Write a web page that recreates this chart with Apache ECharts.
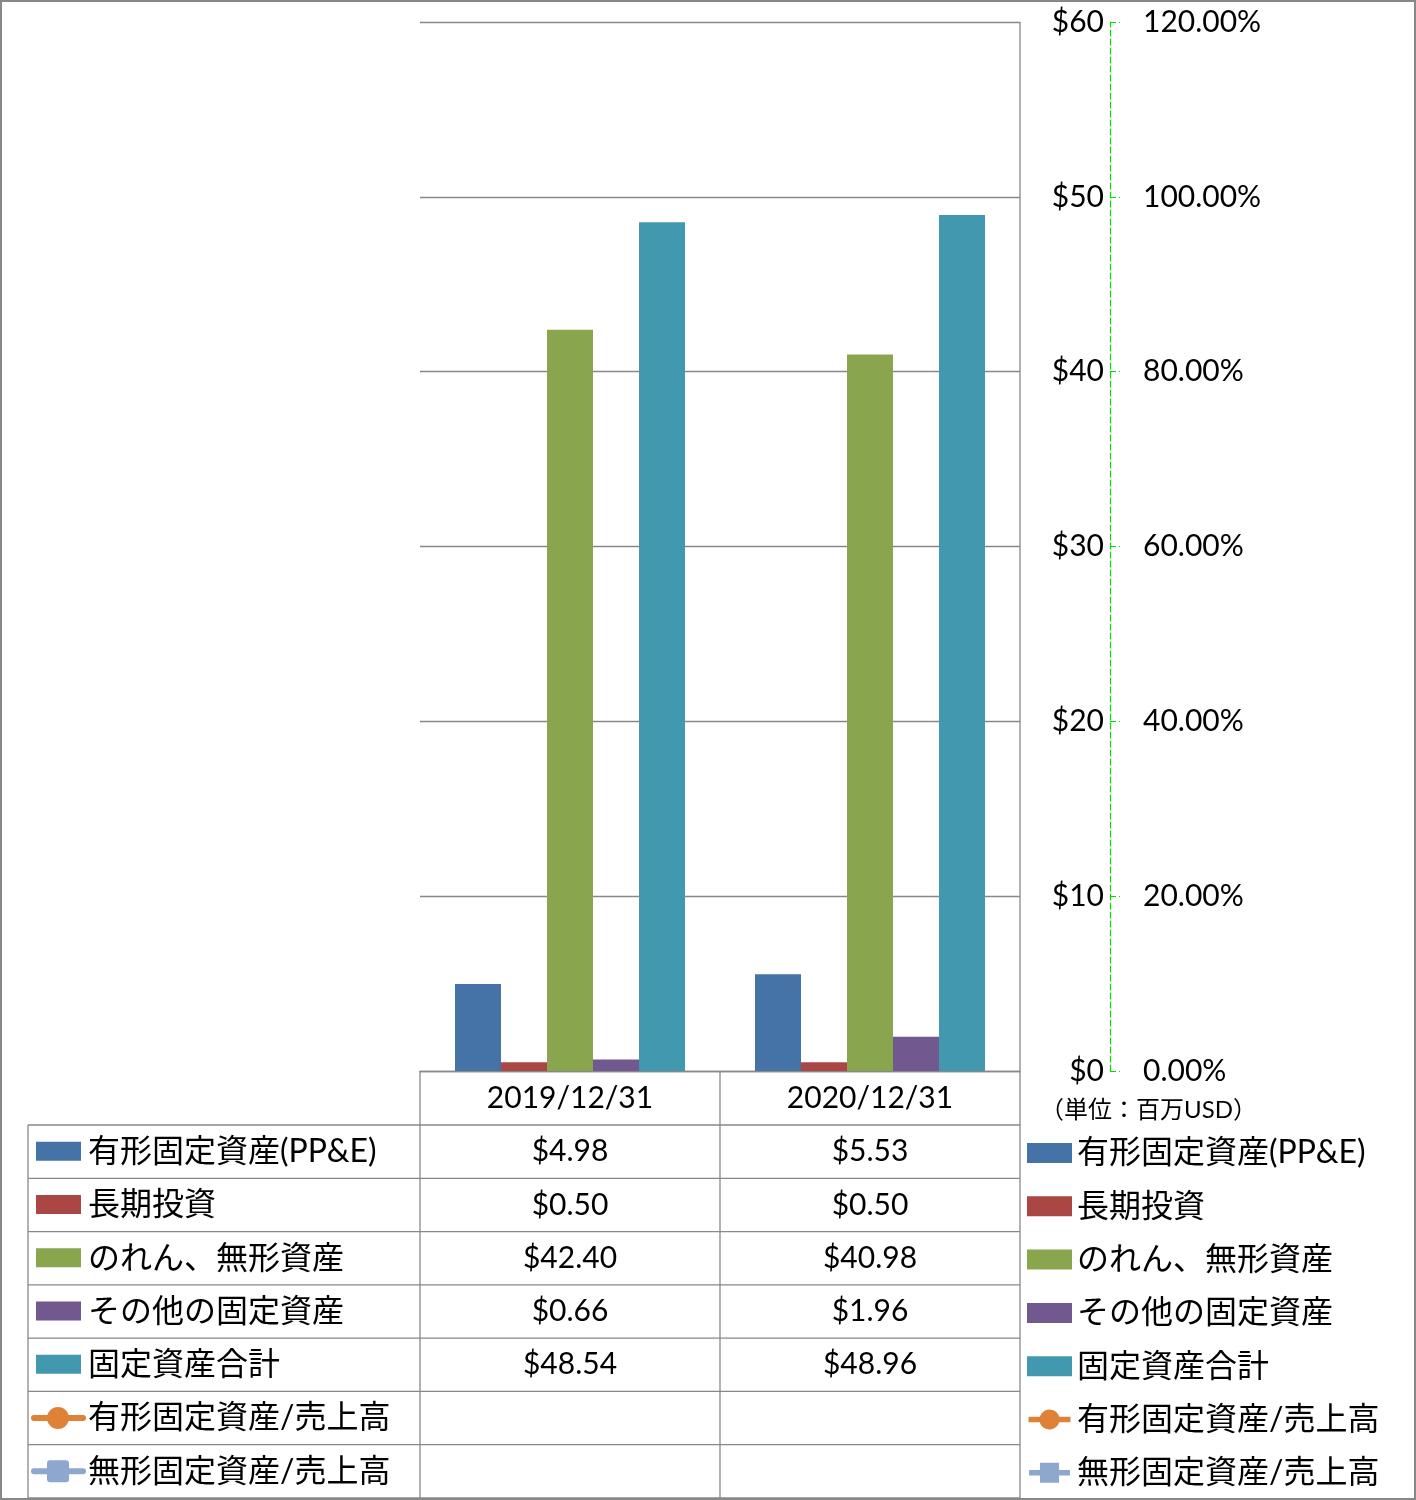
<!DOCTYPE html>
<html><head><meta charset="utf-8">
<script src="https://cdn.jsdelivr.net/npm/echarts@6/dist/echarts.min.js"></script>
<style>html,body{margin:0;padding:0;background:#fff}#c{width:1416px;height:1500px}</style>
</head><body><div id="c"></div>
<script>
// ---- data ----
const categories = ['2019/12/31', '2020/12/31'];
const seriesNames = ['有形固定資産(PP&E)', '長期投資', 'のれん、無形資産', 'その他の固定資産', '固定資産合計', '有形固定資産/売上高', '無形固定資産/売上高'];
const ppe = [4.98, 5.53];
const longTermInvest = [0.50, 0.50];
const goodwillIntangible = [42.40, 40.98];
const otherFixed = [0.66, 1.96];
const totalFixed = [48.54, 48.96];
const ppeToSales = [null, null];
const intangibleToSales = [null, null];
const unitLabel = '（単位：百万USD）';

// ---- styles ----
const colors = ['#4572A7', '#AA4643', '#89A54E', '#71588F', '#4198AF', '#DE8237', '#8EA7CF'];
const FONT = "Lato, 'Noto Sans CJK JP', sans-serif";
const GRID_L = 420, GRID_R = 1020, GRID_T = 22, GRID_B = 1071;
const TABLE_X0 = 28, COL_W = 300;
const HEADER_B = 1125, ROW_H = (1498 - 1125) / 7;
const LINE_COL = '#888';
const ICON_CIRCLE = 'path://M0,8h12A11,11 0 0 1 33,8h12v6h-12A11,11 0 0 1 12,14h-12z';
const ICON_SQUARE = 'path://M0,8h12v-8h21v8h12v6h-12v8h-21v-8h-12z';

const barData = [ppe, longTermInvest, goodwillIntangible, otherFixed, totalFixed];
const lineData = [ppeToSales, intangibleToSales];

const series = [];
barData.forEach((d, i) => series.push({
  name: seriesNames[i], type: 'bar', data: d, yAxisIndex: 0,
  barGap: '0%', barCategoryGap: '23.33%',
  itemStyle: { color: colors[i] }
}));
lineData.forEach((d, j) => series.push({
  name: seriesNames[5 + j], type: 'line', data: d, yAxisIndex: 1,
  symbol: j === 0 ? 'circle' : 'roundRect', symbolSize: 22,
  itemStyle: { color: colors[5 + j] }, lineStyle: { color: colors[5 + j], width: 6 }
}));

// ---- table graphics ----
const g = [];
function hline(y, x1, x2) { g.push({ type: 'line', shape: { x1, y1: y, x2, y2: y }, style: { stroke: LINE_COL, lineWidth: 1.3 }, silent: true }); }
function vline(x, y1, y2) { g.push({ type: 'line', shape: { x1: x, y1, x2: x, y2 }, style: { stroke: LINE_COL, lineWidth: 1.3 }, silent: true }); }
const tableBottom = HEADER_B + ROW_H * 7;
vline(GRID_R, GRID_T, tableBottom);
vline(GRID_L, GRID_B, tableBottom);
vline(GRID_L + COL_W, GRID_B, tableBottom);
vline(TABLE_X0, HEADER_B, tableBottom);
for (let r = 0; r <= 7; r++) hline(HEADER_B + ROW_H * r, TABLE_X0, GRID_R);
categories.forEach((c, ci) => {
  g.push({ type: 'text', x: GRID_L + COL_W * (ci + 0.5), y: (GRID_B + HEADER_B) / 2,
    style: { text: c, font: '30px ' + FONT, fill: '#000', align: 'center', verticalAlign: 'middle' }, silent: true });
});
seriesNames.forEach((name, i) => {
  const cy = HEADER_B + ROW_H * (i + 0.5);
  if (i < 5) {
    g.push({ type: 'rect', shape: { x: 36, y: cy - 10, width: 45, height: 19 }, style: { fill: colors[i] }, silent: true });
    categories.forEach((c, ci) => {
      g.push({ type: 'text', x: GRID_L + COL_W * (ci + 0.5), y: cy,
        style: { text: '$' + barData[i][ci].toFixed(2), font: '30px ' + FONT, fill: '#000', align: 'center', verticalAlign: 'middle' }, silent: true });
    });
  } else {
    g.push({ type: 'line', shape: { x1: 34, y1: cy, x2: 83, y2: cy }, style: { stroke: colors[i], lineWidth: 6, lineCap: 'round' }, silent: true });
    if (i === 5) g.push({ type: 'circle', shape: { cx: 58, cy, r: 11 }, style: { fill: colors[i] }, silent: true });
    else g.push({ type: 'rect', shape: { x: 47, y: cy - 11, width: 22, height: 22, r: 3 }, style: { fill: colors[i] }, silent: true });
  }
  g.push({ type: 'text', x: 88, y: cy, style: { text: name, font: '32px ' + FONT, fill: '#000', align: 'left', verticalAlign: 'middle' }, silent: true });
});
g.push({ type: 'text', x: 1040, y: 1110, style: { text: unitLabel, font: '24px ' + FONT, fill: '#000', align: 'left', verticalAlign: 'middle' }, silent: true });
g.push({ type: 'rect', shape: { x: 1, y: 1, width: 1414, height: 1498 }, style: { fill: 'none', stroke: LINE_COL, lineWidth: 2 }, silent: true });

const chart = echarts.init(document.getElementById('c'));
chart.setOption({
  animation: false,
  backgroundColor: '#fff',
  grid: { left: GRID_L, right: 1416 - GRID_R, top: GRID_T, bottom: 1500 - GRID_B, containLabel: false },
  xAxis: {
    type: 'category', data: categories,
    axisLine: { show: true, lineStyle: { color: LINE_COL, width: 1.3 } },
    axisTick: { show: false }, axisLabel: { show: false }, splitLine: { show: false }
  },
  yAxis: [{
    type: 'value', position: 'right', offset: 90, min: 0, max: 60, interval: 10,
    axisLine: { show: true, lineStyle: { color: '#00E000', type: [6, 3], width: 1.2 } },
    axisTick: { show: true, length: 10, lineStyle: { color: '#00E000', type: [6, 3], width: 1.2 } },
    axisLabel: { inside: true, margin: 6, formatter: v => '$' + v, fontSize: 30, fontFamily: FONT, color: '#000' },
    splitLine: { show: true, lineStyle: { color: LINE_COL, width: 1.3 } }
  }, {
    type: 'value', position: 'right', offset: 115, min: 0, max: 1.2, interval: 0.2,
    axisLine: { show: false }, axisTick: { show: false },
    axisLabel: { margin: 8, formatter: v => (v * 100).toFixed(2) + '%', fontSize: 30, fontFamily: FONT, color: '#000' },
    splitLine: { show: false }
  }],
  legend: {
    orient: 'vertical', left: 1027, top: 1133, padding: 0,
    itemWidth: 45, itemHeight: 20, itemGap: 13.3,
    textStyle: { fontSize: 32, fontFamily: FONT, color: '#000', lineHeight: 40 },
    data: seriesNames.map((n, i) => ({ name: n, icon: i < 5 ? 'rect' : (i === 5 ? ICON_CIRCLE : ICON_SQUARE) })),
    selectedMode: false
  },
  series,
  graphic: g
});
</script></body></html>
